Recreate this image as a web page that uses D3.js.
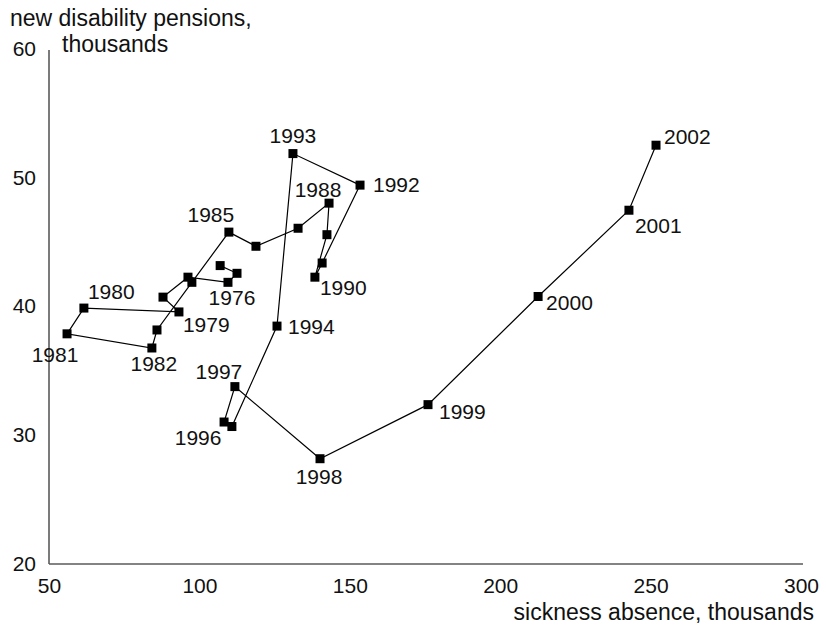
<!DOCTYPE html>
<html>
<head>
<meta charset="utf-8">
<script src="https://cdn.jsdelivr.net/npm/d3@7"></script>
<style>
  html, body { margin: 0; padding: 0; background: #fff; }
  svg text { font-family: "Liberation Sans", Arial, Helvetica, sans-serif; fill: #111; }
</style>
</head>
<body>
<svg id="chart" width="826" height="629"></svg>
<script>
// ---- data ----
const years = [1974, 1975, 1976, 1977, 1978, 1979, 1980, 1981, 1982, 1983, 1984, 1985, 1986, 1987, 1988,
               1989, 1990, 1991, 1992, 1993, 1994, 1995, 1996, 1997, 1998, 1999, 2000, 2001, 2002];
const sicknessAbsence = [106.9, 112.5, 109.5, 96.2, 87.9, 93.2, 61.6, 56.0, 84.2, 85.9, 97.5, 109.8, 118.8, 132.8, 143.1,
                         142.4, 138.4, 140.8, 153.4, 131.1, 125.8, 110.8, 108.2, 111.8, 140.1, 176.0, 212.6, 242.8, 251.8];
const disabilityPensions = [43.1, 42.5, 41.8, 42.2, 40.65, 39.5, 39.8, 37.8, 36.7, 38.1, 41.8, 45.7, 44.6, 46.0, 47.95,
                            45.5, 42.2, 43.3, 49.35, 51.8, 38.4, 30.6, 30.95, 33.7, 28.1, 32.3, 40.7, 47.4, 52.45];
const labelledYears = [1976, 1979, 1980, 1981, 1982, 1985, 1988, 1990, 1992, 1993, 1994, 1996, 1997, 1998, 1999, 2000, 2001, 2002];
const xTicks = [50, 100, 150, 200, 250, 300];
const yTicks = [20, 30, 40, 50, 60];
const yTitleLines = ["new disability pensions,", "thousands"];
const xTitle = "sickness absence, thousands";

// ---- layout ----
const svg = d3.select("#chart");
const x = d3.scaleLinear().domain([50, 300]).range([49, 801]);
const y = d3.scaleLinear().domain([20, 60]).range([563, 48]);

const points = years.map((yr, i) => ({ year: yr, sx: sicknessAbsence[i], dp: disabilityPensions[i] }));

// label placement: [anchor, dx, dy]
const labelPlace = {
  1976: ["middle", 4, 23], 1979: ["start", 4, 20], 1980: ["start", 4, -9], 1981: ["middle", -12, 28],
  1982: ["middle", 2, 23], 1985: ["middle", -18, -10], 1988: ["middle", -11, -6], 1990: ["start", 5, 18],
  1992: ["start", 13, 7], 1993: ["middle", 0, -11], 1994: ["start", 11, 8], 1996: ["middle", -26, 23],
  1997: ["middle", -16, -8], 1998: ["middle", -1, 25], 1999: ["start", 11, 14], 2000: ["start", 8, 14],
  2001: ["start", 6, 23], 2002: ["start", 8, -1]
};

const numSize = 21;
const titleSize = 23;

// axes
const xAxis = d3.axisBottom(x).tickValues(xTicks).tickSize(0).tickSizeOuter(0).tickPadding(0).tickFormat(d3.format("d"));
const gx = svg.append("g").attr("transform", `translate(0,${y(20) + 1})`).call(xAxis);
gx.select(".domain").attr("stroke", "#5a5a5a").attr("stroke-width", 1.6).attr("d", `M${x(50)},0H${x(300) + 2}`);
gx.selectAll(".tick text").attr("font-size", numSize).attr("y", 29).attr("dy", 0)
  .attr("font-family", "Liberation Sans, Arial, sans-serif").attr("fill", "#111");

const yAxis = d3.axisLeft(y).tickValues(yTicks).tickSize(0).tickSizeOuter(0).tickPadding(13).tickFormat(d3.format("d"));
const gy = svg.append("g").attr("transform", `translate(${x(50)},0)`).call(yAxis);
gy.select(".domain").attr("stroke", "#5a5a5a").attr("stroke-width", 1.6).attr("d", `M0,${y(60) + 2}V${y(20) + 1}`);
gy.selectAll(".tick text").attr("font-size", numSize).attr("dy", "0.35em")
  .attr("font-family", "Liberation Sans, Arial, sans-serif").attr("fill", "#111");

// axis titles
svg.append("text").attr("x", 10).attr("y", 26).attr("font-size", titleSize).text(yTitleLines[0]);
svg.append("text").attr("x", 62).attr("y", 52).attr("font-size", titleSize).text(yTitleLines[1]);
svg.append("text").attr("x", 814).attr("y", 620).attr("text-anchor", "end").attr("font-size", titleSize).text(xTitle);

// connecting line
const line = d3.line().x(d => x(d.sx)).y(d => y(d.dp));
svg.append("path").datum(points).attr("d", line).attr("fill", "none").attr("stroke", "#000").attr("stroke-width", 1.2);

// markers
const sz = 9;
svg.append("g").selectAll("rect").data(points).join("rect")
  .attr("x", d => x(d.sx) - sz / 2).attr("y", d => y(d.dp) - sz / 2)
  .attr("width", sz).attr("height", sz).attr("fill", "#000");

// year labels
svg.append("g").selectAll("text").data(points.filter(d => labelledYears.includes(d.year))).join("text")
  .attr("x", d => x(d.sx) + labelPlace[d.year][1])
  .attr("y", d => y(d.dp) + labelPlace[d.year][2])
  .attr("text-anchor", d => labelPlace[d.year][0])
  .attr("font-size", numSize)
  .text(d => d.year);
</script>
</body>
</html>
